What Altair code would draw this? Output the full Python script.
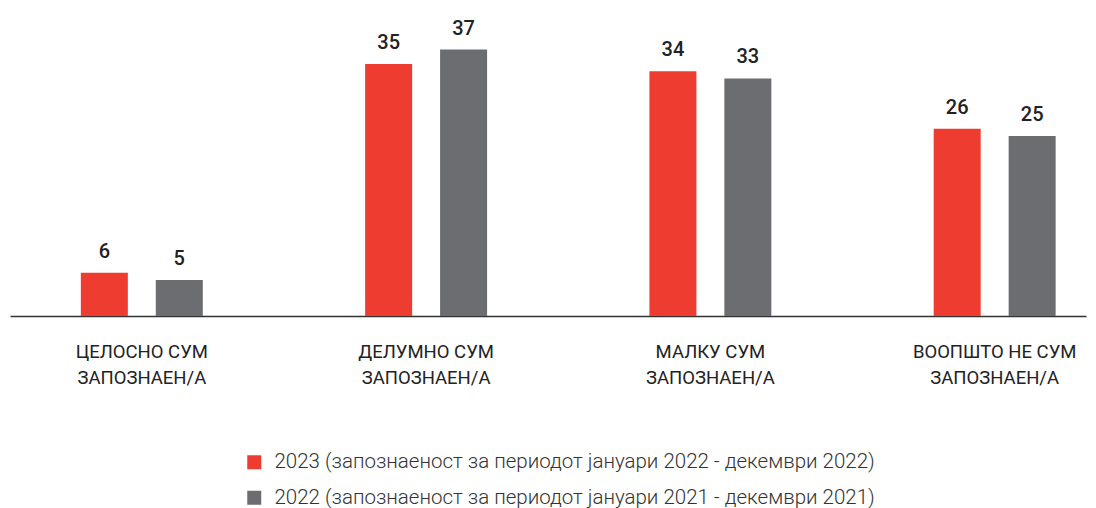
import altair as alt
import pandas as pd

categories = ["ЦЕЛОСНО СУМ\nЗАПОЗНАЕН/А", "ДЕЛУМНО СУМ\nЗАПОЗНАЕН/А",
              "МАЛКУ СУМ\nЗАПОЗНАЕН/А", "ВООПШТО НЕ СУМ\nЗАПОЗНАЕН/А"]
series_names = ["2023 (запознаеност за периодот јануари 2022 - декември 2022)",
                "2022 (запознаеност за периодот јануари 2021 - декември 2021)"]
values_2023 = [6, 35, 34, 26]
values_2022 = [5, 37, 33, 25]
colors = ["#EE3D30", "#6C6D71"]

rows = []
for c, a, b in zip(categories, values_2023, values_2022):
    rows.append({"cat": c, "series": series_names[0], "value": a})
    rows.append({"cat": c, "series": series_names[1], "value": b})
df = pd.DataFrame(rows)

x = alt.X("cat:N", sort=categories, title=None,
          scale=alt.Scale(paddingInner=0.571, paddingOuter=0.178, align=0.70),
          axis=alt.Axis(labelAngle=0, labelExpr="split(datum.label, '\\n')",
                        labelFont="Roboto", labelFontSize=18.5, labelLineHeight=26,
                        labelColor="#222222", labelPadding=26, labelLimit=0,
                        ticks=False, domainColor="#333333", domainWidth=1.5))
xo = alt.XOffset("series:N", sort=series_names,
                 scale=alt.Scale(paddingInner=0.373, paddingOuter=0))
y = alt.Y("value:Q", scale=alt.Scale(domain=[0, 40]), axis=None)
color = alt.Color("series:N", sort=series_names,
                  scale=alt.Scale(domain=series_names, range=colors),
                  legend=alt.Legend(title=None, orient="none", legendX=234, legendY=424,
                                    direction="vertical", symbolType="square",
                                    symbolSize=196, symbolStrokeWidth=0,
                                    labelFont="Roboto", labelFontSize=20.5, labelFontWeight=300,
                                    labelColor="#333333", labelLimit=0,
                                    labelOffset=10, rowPadding=14.5, padding=0))

base = alt.Chart(df)
bars = base.mark_bar().encode(x=x, xOffset=xo, y=y, color=color)
labels = base.mark_text(font="Roboto", fontSize=20, fontWeight=500, color="#222222",
                        baseline="alphabetic", dy=-15).encode(
    x=x, xOffset=xo, y=y, text=alt.Text("value:Q"))

chart = (bars + labels).properties(
    width=1076, height=288,
    autosize=alt.AutoSizeParams(type="none"),
    padding={"left": 2, "top": 20, "right": 2, "bottom": 192},
).configure(background="white").configure_view(stroke=None, strokeWidth=0)

chart.save("out.html", embed_options={"renderer": "svg", "actions": False})
